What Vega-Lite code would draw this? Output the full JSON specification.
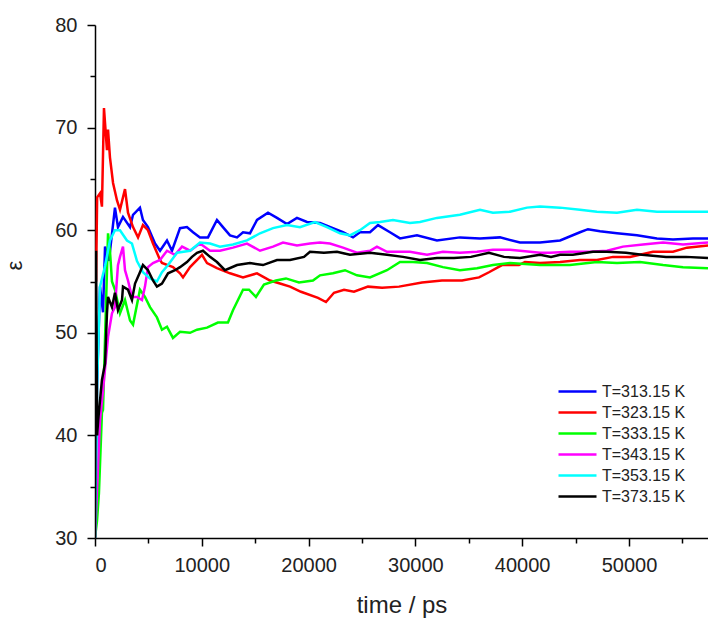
{
  "$schema": "https://vega.github.io/schema/vega-lite/v6.json",
  "width": 613,
  "height": 513,
  "autosize": {"type": "none"},
  "padding": {"top": 25, "left": 95, "right": 0, "bottom": 80},
  "background": "white",
  "config": {
    "view": {"stroke": null},
    "axis": {"grid": false, "domainColor": "black", "tickColor": "black", "domainWidth": 1.5, "tickWidth": 1.5, "labelFont": "Liberation Sans", "labelColor": "#222", "titleFont": "Liberation Sans", "titleColor": "#222", "titleFontWeight": "normal"}
  },
  "data": {"name": "d"},
  "datasets": {
    "d": [
      {"T":"T=313.15 K","t":0,"e":30},{"T":"T=313.15 K","t":190,"e":45},{"T":"T=313.15 K","t":470,"e":54.5},{"T":"T=313.15 K","t":750,"e":52},{"T":"T=313.15 K","t":940,"e":58.4},{"T":"T=313.15 K","t":1300,"e":57},{"T":"T=313.15 K","t":1870,"e":62.2},{"T":"T=313.15 K","t":2150,"e":60.3},{"T":"T=313.15 K","t":2620,"e":61.3},{"T":"T=313.15 K","t":3280,"e":60.3},{"T":"T=313.15 K","t":3560,"e":61.5},{"T":"T=313.15 K","t":4210,"e":62.2},{"T":"T=313.15 K","t":4490,"e":61},{"T":"T=313.15 K","t":4960,"e":60.3},{"T":"T=313.15 K","t":5620,"e":58.7},{"T":"T=313.15 K","t":6090,"e":58},{"T":"T=313.15 K","t":6740,"e":59},{"T":"T=313.15 K","t":7210,"e":58},{"T":"T=313.15 K","t":7960,"e":60.2},{"T":"T=313.15 K","t":8610,"e":60.3},{"T":"T=313.15 K","t":9180,"e":59.8},{"T":"T=313.15 K","t":9830,"e":59.3},{"T":"T=313.15 K","t":10580,"e":59.3},{"T":"T=313.15 K","t":11420,"e":61},{"T":"T=313.15 K","t":11980,"e":60.3},{"T":"T=313.15 K","t":12640,"e":59.5},{"T":"T=313.15 K","t":13300,"e":59.3},{"T":"T=313.15 K","t":13860,"e":59.8},{"T":"T=313.15 K","t":14510,"e":59.7},{"T":"T=313.15 K","t":15170,"e":61},{"T":"T=313.15 K","t":16200,"e":61.7},{"T":"T=313.15 K","t":17040,"e":61.2},{"T":"T=313.15 K","t":17980,"e":60.6},{"T":"T=313.15 K","t":18910,"e":61.2},{"T":"T=313.15 K","t":19850,"e":60.8},{"T":"T=313.15 K","t":21070,"e":60.7},{"T":"T=313.15 K","t":22280,"e":60.2},{"T":"T=313.15 K","t":23220,"e":59.8},{"T":"T=313.15 K","t":24160,"e":59.3},{"T":"T=313.15 K","t":24810,"e":59.8},{"T":"T=313.15 K","t":25750,"e":59.8},{"T":"T=313.15 K","t":26500,"e":60.5},{"T":"T=313.15 K","t":27620,"e":59.8},{"T":"T=313.15 K","t":28560,"e":59.2},{"T":"T=313.15 K","t":30150,"e":59.5},{"T":"T=313.15 K","t":32020,"e":59},{"T":"T=313.15 K","t":34170,"e":59.3},{"T":"T=313.15 K","t":36050,"e":59.2},{"T":"T=313.15 K","t":37920,"e":59.3},{"T":"T=313.15 K","t":39790,"e":58.8},{"T":"T=313.15 K","t":41670,"e":58.8},{"T":"T=313.15 K","t":43550,"e":59},{"T":"T=313.15 K","t":45410,"e":59.8},{"T":"T=313.15 K","t":46160,"e":60.1},{"T":"T=313.15 K","t":47290,"e":59.9},{"T":"T=313.15 K","t":48880,"e":59.7},{"T":"T=313.15 K","t":50750,"e":59.5},{"T":"T=313.15 K","t":52620,"e":59.2},{"T":"T=313.15 K","t":54120,"e":59.1},{"T":"T=313.15 K","t":55990,"e":59.2},{"T":"T=313.15 K","t":57400,"e":59.2},

      {"T":"T=323.15 K","t":100,"e":55},{"T":"T=323.15 K","t":200,"e":63.2},{"T":"T=323.15 K","t":470,"e":63.6},{"T":"T=323.15 K","t":650,"e":62.3},{"T":"T=323.15 K","t":840,"e":71.9},{"T":"T=323.15 K","t":1120,"e":67.8},{"T":"T=323.15 K","t":1220,"e":69.8},{"T":"T=323.15 K","t":1400,"e":67.1},{"T":"T=323.15 K","t":1690,"e":64.6},{"T":"T=323.15 K","t":2060,"e":62.9},{"T":"T=323.15 K","t":2340,"e":62},{"T":"T=323.15 K","t":2620,"e":63.2},{"T":"T=323.15 K","t":2810,"e":64},{"T":"T=323.15 K","t":3090,"e":61.7},{"T":"T=323.15 K","t":3560,"e":60.3},{"T":"T=323.15 K","t":4030,"e":59.3},{"T":"T=323.15 K","t":4490,"e":60.5},{"T":"T=323.15 K","t":4960,"e":60},{"T":"T=323.15 K","t":5430,"e":58.7},{"T":"T=323.15 K","t":6090,"e":57.1},{"T":"T=323.15 K","t":6270,"e":56.8},{"T":"T=323.15 K","t":7300,"e":56.4},{"T":"T=323.15 K","t":7960,"e":55.8},{"T":"T=323.15 K","t":8240,"e":55.4},{"T":"T=323.15 K","t":8900,"e":56.4},{"T":"T=323.15 K","t":10020,"e":57.6},{"T":"T=323.15 K","t":10490,"e":56.8},{"T":"T=323.15 K","t":11420,"e":56.3},{"T":"T=323.15 K","t":12640,"e":55.8},{"T":"T=323.15 K","t":13860,"e":55.4},{"T":"T=323.15 K","t":15170,"e":55.8},{"T":"T=323.15 K","t":16390,"e":55.1},{"T":"T=323.15 K","t":17320,"e":54.8},{"T":"T=323.15 K","t":18260,"e":54.5},{"T":"T=323.15 K","t":19290,"e":54},{"T":"T=323.15 K","t":20880,"e":53.4},{"T":"T=323.15 K","t":21630,"e":53},{"T":"T=323.15 K","t":22380,"e":53.9},{"T":"T=323.15 K","t":23320,"e":54.2},{"T":"T=323.15 K","t":24250,"e":54},{"T":"T=323.15 K","t":25560,"e":54.5},{"T":"T=323.15 K","t":26880,"e":54.4},{"T":"T=323.15 K","t":28470,"e":54.5},{"T":"T=323.15 K","t":30620,"e":54.9},{"T":"T=323.15 K","t":32490,"e":55.1},{"T":"T=323.15 K","t":34370,"e":55.1},{"T":"T=323.15 K","t":35960,"e":55.4},{"T":"T=323.15 K","t":36890,"e":55.9},{"T":"T=323.15 K","t":38110,"e":56.6},{"T":"T=323.15 K","t":39700,"e":56.6},{"T":"T=323.15 K","t":40260,"e":56.9},{"T":"T=323.15 K","t":41670,"e":56.8},{"T":"T=323.15 K","t":43550,"e":56.9},{"T":"T=323.15 K","t":45410,"e":57.1},{"T":"T=323.15 K","t":47010,"e":57.1},{"T":"T=323.15 K","t":48510,"e":57.4},{"T":"T=323.15 K","t":50100,"e":57.4},{"T":"T=323.15 K","t":52250,"e":57.9},{"T":"T=323.15 K","t":54120,"e":57.9},{"T":"T=323.15 K","t":55430,"e":58.3},{"T":"T=323.15 K","t":57400,"e":58.5},

      {"T":"T=333.15 K","t":0,"e":30},{"T":"T=333.15 K","t":190,"e":31.7},{"T":"T=333.15 K","t":370,"e":34.4},{"T":"T=333.15 K","t":650,"e":42.2},{"T":"T=333.15 K","t":750,"e":42.5},{"T":"T=333.15 K","t":1220,"e":59.7},{"T":"T=333.15 K","t":1400,"e":58},{"T":"T=333.15 K","t":1590,"e":55},{"T":"T=333.15 K","t":1870,"e":54.2},{"T":"T=333.15 K","t":2340,"e":51.9},{"T":"T=333.15 K","t":2810,"e":53.2},{"T":"T=333.15 K","t":3280,"e":51.2},{"T":"T=333.15 K","t":3560,"e":50.8},{"T":"T=333.15 K","t":4210,"e":54.2},{"T":"T=333.15 K","t":4680,"e":53.5},{"T":"T=333.15 K","t":5150,"e":52.5},{"T":"T=333.15 K","t":5800,"e":51.5},{"T":"T=333.15 K","t":6270,"e":50.3},{"T":"T=333.15 K","t":6740,"e":50.6},{"T":"T=333.15 K","t":7300,"e":49.5},{"T":"T=333.15 K","t":7960,"e":50.1},{"T":"T=333.15 K","t":8900,"e":50},{"T":"T=333.15 K","t":9550,"e":50.3},{"T":"T=333.15 K","t":10490,"e":50.5},{"T":"T=333.15 K","t":11510,"e":51},{"T":"T=333.15 K","t":12450,"e":51},{"T":"T=333.15 K","t":12920,"e":52.2},{"T":"T=333.15 K","t":13860,"e":54.2},{"T":"T=333.15 K","t":14420,"e":54.2},{"T":"T=333.15 K","t":15070,"e":53.5},{"T":"T=333.15 K","t":15820,"e":54.7},{"T":"T=333.15 K","t":16950,"e":55.1},{"T":"T=333.15 K","t":17880,"e":55.3},{"T":"T=333.15 K","t":19100,"e":54.9},{"T":"T=333.15 K","t":20410,"e":55.1},{"T":"T=333.15 K","t":21070,"e":55.6},{"T":"T=333.15 K","t":22280,"e":55.8},{"T":"T=333.15 K","t":23410,"e":56.1},{"T":"T=333.15 K","t":24530,"e":55.6},{"T":"T=333.15 K","t":25750,"e":55.4},{"T":"T=333.15 K","t":27340,"e":56.1},{"T":"T=333.15 K","t":28560,"e":56.9},{"T":"T=333.15 K","t":29770,"e":56.9},{"T":"T=333.15 K","t":31090,"e":56.8},{"T":"T=333.15 K","t":32580,"e":56.4},{"T":"T=333.15 K","t":34170,"e":56.1},{"T":"T=333.15 K","t":35770,"e":56.3},{"T":"T=333.15 K","t":37260,"e":56.6},{"T":"T=333.15 K","t":38860,"e":56.8},{"T":"T=333.15 K","t":41670,"e":56.6},{"T":"T=333.15 K","t":44470,"e":56.6},{"T":"T=333.15 K","t":47000,"e":56.9},{"T":"T=333.15 K","t":48880,"e":56.8},{"T":"T=333.15 K","t":51030,"e":56.9},{"T":"T=333.15 K","t":53190,"e":56.6},{"T":"T=333.15 K","t":55060,"e":56.4},{"T":"T=333.15 K","t":57400,"e":56.3},

      {"T":"T=343.15 K","t":0,"e":30},{"T":"T=343.15 K","t":470,"e":41.5},{"T":"T=343.15 K","t":750,"e":44.4},{"T":"T=343.15 K","t":1220,"e":49.6},{"T":"T=343.15 K","t":1590,"e":51.9},{"T":"T=343.15 K","t":1870,"e":52.5},{"T":"T=343.15 K","t":2150,"e":56.6},{"T":"T=343.15 K","t":2340,"e":57.4},{"T":"T=343.15 K","t":2620,"e":58.4},{"T":"T=343.15 K","t":2810,"e":56.1},{"T":"T=343.15 K","t":3090,"e":55.1},{"T":"T=343.15 K","t":3460,"e":53.5},{"T":"T=343.15 K","t":3930,"e":53.5},{"T":"T=343.15 K","t":4400,"e":53.2},{"T":"T=343.15 K","t":4680,"e":54.5},{"T":"T=343.15 K","t":4960,"e":56.4},{"T":"T=343.15 K","t":5430,"e":56.8},{"T":"T=343.15 K","t":6090,"e":57.1},{"T":"T=343.15 K","t":6740,"e":58},{"T":"T=343.15 K","t":7490,"e":57.6},{"T":"T=343.15 K","t":8150,"e":58.4},{"T":"T=343.15 K","t":8900,"e":58},{"T":"T=343.15 K","t":9830,"e":58.7},{"T":"T=343.15 K","t":10770,"e":58},{"T":"T=343.15 K","t":11700,"e":58},{"T":"T=343.15 K","t":12920,"e":58.3},{"T":"T=343.15 K","t":14230,"e":58.7},{"T":"T=343.15 K","t":15450,"e":58},{"T":"T=343.15 K","t":16670,"e":58.4},{"T":"T=343.15 K","t":17600,"e":58.8},{"T":"T=343.15 K","t":18910,"e":58.5},{"T":"T=343.15 K","t":20130,"e":58.7},{"T":"T=343.15 K","t":21070,"e":58.8},{"T":"T=343.15 K","t":22000,"e":58.7},{"T":"T=343.15 K","t":23220,"e":58.3},{"T":"T=343.15 K","t":24530,"e":57.8},{"T":"T=343.15 K","t":25750,"e":58},{"T":"T=343.15 K","t":26400,"e":58.4},{"T":"T=343.15 K","t":27340,"e":57.9},{"T":"T=343.15 K","t":29490,"e":57.9},{"T":"T=343.15 K","t":31090,"e":57.6},{"T":"T=343.15 K","t":32580,"e":57.9},{"T":"T=343.15 K","t":34170,"e":57.8},{"T":"T=343.15 K","t":35770,"e":57.9},{"T":"T=343.15 K","t":37260,"e":58.1},{"T":"T=343.15 K","t":38860,"e":58.1},{"T":"T=343.15 K","t":41670,"e":57.8},{"T":"T=343.15 K","t":42600,"e":57.8},{"T":"T=343.15 K","t":44470,"e":57.9},{"T":"T=343.15 K","t":46350,"e":57.9},{"T":"T=343.15 K","t":47940,"e":58},{"T":"T=343.15 K","t":49440,"e":58.4},{"T":"T=343.15 K","t":51310,"e":58.6},{"T":"T=343.15 K","t":53190,"e":58.8},{"T":"T=343.15 K","t":55060,"e":58.6},{"T":"T=343.15 K","t":57400,"e":58.8},

      {"T":"T=353.15 K","t":0,"e":30},{"T":"T=353.15 K","t":200,"e":45},{"T":"T=353.15 K","t":470,"e":54.5},{"T":"T=353.15 K","t":940,"e":56.5},{"T":"T=353.15 K","t":1400,"e":59},{"T":"T=353.15 K","t":1870,"e":60},{"T":"T=353.15 K","t":2340,"e":60},{"T":"T=353.15 K","t":2990,"e":59},{"T":"T=353.15 K","t":3460,"e":58.7},{"T":"T=353.15 K","t":3930,"e":57},{"T":"T=353.15 K","t":4490,"e":55.9},{"T":"T=353.15 K","t":5150,"e":55.3},{"T":"T=353.15 K","t":5800,"e":55},{"T":"T=353.15 K","t":6270,"e":55.9},{"T":"T=353.15 K","t":6840,"e":56.6},{"T":"T=353.15 K","t":7680,"e":57.8},{"T":"T=353.15 K","t":8900,"e":58},{"T":"T=353.15 K","t":9830,"e":58.8},{"T":"T=353.15 K","t":10770,"e":58.7},{"T":"T=353.15 K","t":11700,"e":58.4},{"T":"T=353.15 K","t":12920,"e":58.6},{"T":"T=353.15 K","t":14230,"e":59},{"T":"T=353.15 K","t":15450,"e":59.7},{"T":"T=353.15 K","t":16670,"e":60.2},{"T":"T=353.15 K","t":17980,"e":60.5},{"T":"T=353.15 K","t":19190,"e":60.3},{"T":"T=353.15 K","t":20600,"e":60.8},{"T":"T=353.15 K","t":21720,"e":60.3},{"T":"T=353.15 K","t":22940,"e":59.7},{"T":"T=353.15 K","t":23870,"e":59.5},{"T":"T=353.15 K","t":24810,"e":60},{"T":"T=353.15 K","t":25750,"e":60.7},{"T":"T=353.15 K","t":26690,"e":60.8},{"T":"T=353.15 K","t":27900,"e":61},{"T":"T=353.15 K","t":29490,"e":60.7},{"T":"T=353.15 K","t":30430,"e":60.8},{"T":"T=353.15 K","t":32020,"e":61.2},{"T":"T=353.15 K","t":34170,"e":61.5},{"T":"T=353.15 K","t":36050,"e":62},{"T":"T=353.15 K","t":37260,"e":61.7},{"T":"T=353.15 K","t":38860,"e":61.8},{"T":"T=353.15 K","t":40450,"e":62.2},{"T":"T=353.15 K","t":41670,"e":62.3},{"T":"T=353.15 K","t":43550,"e":62.2},{"T":"T=353.15 K","t":45410,"e":62},{"T":"T=353.15 K","t":47000,"e":61.8},{"T":"T=353.15 K","t":48880,"e":61.7},{"T":"T=353.15 K","t":50750,"e":62},{"T":"T=353.15 K","t":52620,"e":61.8},{"T":"T=353.15 K","t":54500,"e":61.8},{"T":"T=353.15 K","t":57400,"e":61.8},

      {"T":"T=373.15 K","t":0,"e":30},{"T":"T=373.15 K","t":100,"e":58},{"T":"T=373.15 K","t":200,"e":40},{"T":"T=373.15 K","t":300,"e":41.5},{"T":"T=373.15 K","t":650,"e":45.4},{"T":"T=373.15 K","t":940,"e":47},{"T":"T=373.15 K","t":1120,"e":51.9},{"T":"T=373.15 K","t":1220,"e":53.5},{"T":"T=373.15 K","t":1590,"e":52.5},{"T":"T=373.15 K","t":1870,"e":53.9},{"T":"T=373.15 K","t":2150,"e":52.2},{"T":"T=373.15 K","t":2530,"e":53.2},{"T":"T=373.15 K","t":2620,"e":54.5},{"T":"T=373.15 K","t":3090,"e":54.2},{"T":"T=373.15 K","t":3460,"e":53.2},{"T":"T=373.15 K","t":3750,"e":54.8},{"T":"T=373.15 K","t":4210,"e":55.9},{"T":"T=373.15 K","t":4490,"e":56.6},{"T":"T=373.15 K","t":4960,"e":56.1},{"T":"T=373.15 K","t":5430,"e":55.1},{"T":"T=373.15 K","t":5800,"e":54.5},{"T":"T=373.15 K","t":6270,"e":54.8},{"T":"T=373.15 K","t":6840,"e":55.8},{"T":"T=373.15 K","t":7490,"e":56.1},{"T":"T=373.15 K","t":7960,"e":56.4},{"T":"T=373.15 K","t":8610,"e":56.9},{"T":"T=373.15 K","t":9080,"e":57.4},{"T":"T=373.15 K","t":9550,"e":57.8},{"T":"T=373.15 K","t":10110,"e":58},{"T":"T=373.15 K","t":10770,"e":57.4},{"T":"T=373.15 K","t":11420,"e":56.9},{"T":"T=373.15 K","t":12170,"e":56.1},{"T":"T=373.15 K","t":13300,"e":56.6},{"T":"T=373.15 K","t":14510,"e":56.8},{"T":"T=373.15 K","t":15730,"e":56.6},{"T":"T=373.15 K","t":17040,"e":57.1},{"T":"T=373.15 K","t":18260,"e":57.1},{"T":"T=373.15 K","t":19570,"e":57.4},{"T":"T=373.15 K","t":20130,"e":57.9},{"T":"T=373.15 K","t":21440,"e":57.8},{"T":"T=373.15 K","t":22660,"e":57.9},{"T":"T=373.15 K","t":23870,"e":57.6},{"T":"T=373.15 K","t":25750,"e":57.8},{"T":"T=373.15 K","t":27340,"e":57.6},{"T":"T=373.15 K","t":28840,"e":57.4},{"T":"T=373.15 K","t":30430,"e":57.1},{"T":"T=373.15 K","t":32020,"e":57.3},{"T":"T=373.15 K","t":33610,"e":57.3},{"T":"T=373.15 K","t":35200,"e":57.4},{"T":"T=373.15 K","t":36890,"e":57.8},{"T":"T=373.15 K","t":38300,"e":57.4},{"T":"T=373.15 K","t":39790,"e":57.3},{"T":"T=373.15 K","t":41670,"e":57.6},{"T":"T=373.15 K","t":42700,"e":57.4},{"T":"T=373.15 K","t":43550,"e":57.6},{"T":"T=373.15 K","t":44750,"e":57.6},{"T":"T=373.15 K","t":46630,"e":57.9},{"T":"T=373.15 K","t":47940,"e":57.9},{"T":"T=373.15 K","t":49720,"e":57.8},{"T":"T=373.15 K","t":51220,"e":57.6},{"T":"T=373.15 K","t":53470,"e":57.4},{"T":"T=373.15 K","t":55340,"e":57.4},{"T":"T=373.15 K","t":57400,"e":57.3}
    ]
  },
  "layer": [
    {
      "mark": {"type": "line", "strokeOpacity": 0},
      "encoding": {
        "x": {"field": "t", "type": "quantitative", "scale": {"domain": [0, 57400], "nice": false, "zero": false},
          "axis": {"orient": "bottom", "values": [5000, 15000, 25000, 35000, 45000, 55000], "labels": false, "domain": false, "tickSize": 5, "title": null}},
        "y": {"field": "e", "type": "quantitative", "scale": {"domain": [30, 80], "nice": false, "zero": false},
          "axis": {"orient": "left", "values": [35, 45, 55, 65, 75], "labels": false, "domain": false, "tickSize": 5, "title": null}},
        "detail": {"field": "T"}
      }
    },
    {
      "mark": {"type": "line", "strokeWidth": 2.5, "clip": true},
      "encoding": {
        "x": {"field": "t", "type": "quantitative",
          "axis": {"orient": "bottom", "values": [0, 10000, 20000, 30000, 40000, 50000], "format": "d", "tickSize": 8, "labelFontSize": 20, "labelPadding": 9, "title": "time / ps", "titleFontSize": 24, "titlePadding": 18}},
        "y": {"field": "e", "type": "quantitative",
          "axis": {"orient": "left", "values": [30, 40, 50, 60, 70, 80], "format": "d", "tickSize": 8, "labelFontSize": 20, "labelPadding": 10, "title": "ε", "titleFontSize": 22, "titlePadding": 28, "titleY": 240}},
        "color": {"field": "T", "type": "nominal",
          "scale": {"domain": ["T=313.15 K", "T=323.15 K", "T=333.15 K", "T=343.15 K", "T=353.15 K", "T=373.15 K"], "range": ["#0000ff", "#ff0000", "#00ff00", "#ff00ff", "#00ffff", "#000000"]},
          "legend": {"title": null, "orient": "none", "legendX": 462, "legendY": 356, "symbolType": "stroke", "symbolSize": 1444, "symbolStrokeWidth": 2.5, "clipHeight": 21, "rowPadding": 0, "labelOffset": 4, "labelFont": "Liberation Sans", "labelFontSize": 16, "labelColor": "#222", "padding": 0}}
      }
    }
  ],
  "resolve": {"axis": {"x": "independent", "y": "independent"}}
}
